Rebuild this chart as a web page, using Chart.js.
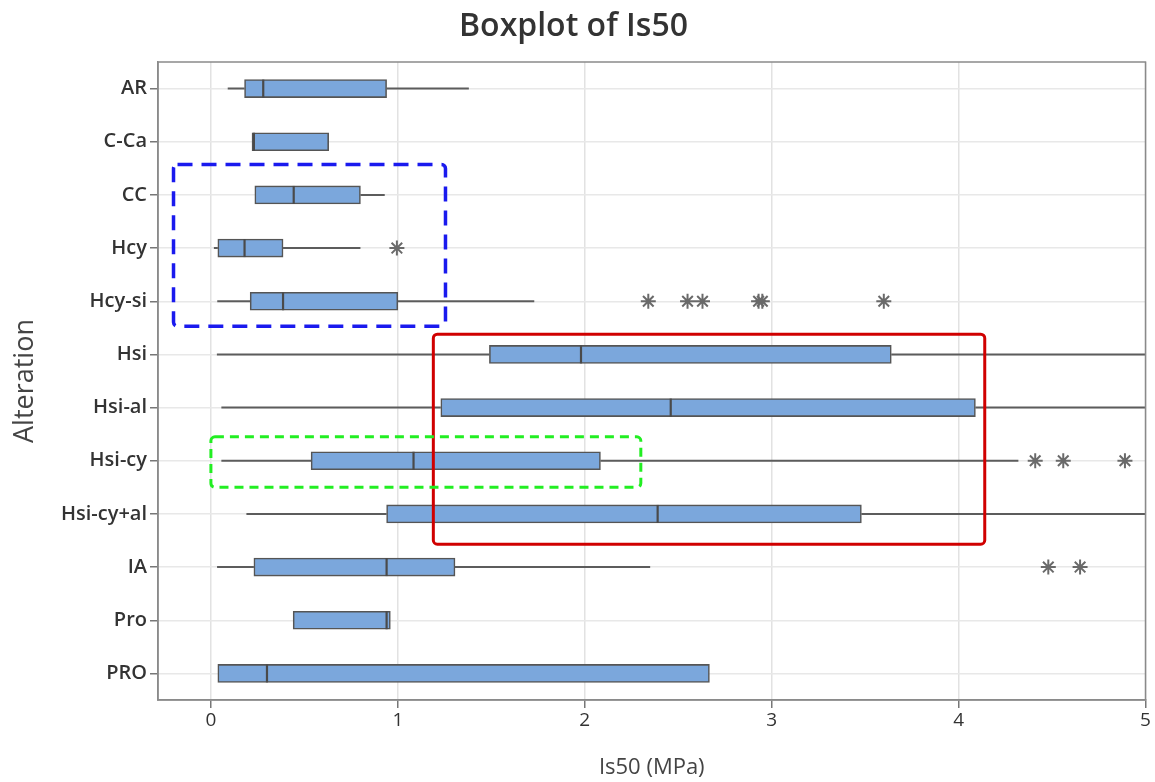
<!DOCTYPE html>
<html>
<head>
<meta charset="utf-8">
<script src="https://cdn.jsdelivr.net/npm/chart.js@4/dist/chart.umd.min.js"></script>
<style>
  html, body { margin: 0; padding: 0; background: #fff; }
  #wrap { width: 1155px; height: 782px; }
</style>
</head>
<body>
<div id="wrap"><canvas id="box"></canvas></div>
<script>
// -------------------- DATA --------------------
const categories  = ['AR', 'C-Ca', 'CC', 'Hcy', 'Hcy-si', 'Hsi', 'Hsi-al', 'Hsi-cy', 'Hsi-cy+al', 'IA', 'Pro', 'PRO'];
const whiskerLow  = [0.09, 0.22, 0.235, 0.016, 0.034, 0.032, 0.056, 0.056, 0.19, 0.033, 0.44, 0.037];
const q1          = [0.18, 0.22, 0.235, 0.037, 0.21, 1.49, 1.23, 0.536, 0.94, 0.23, 0.44, 0.037];
const median      = [0.28, 0.23, 0.443, 0.18, 0.386, 1.98, 2.46, 1.084, 2.39, 0.94, 0.94, 0.30];
const q3          = [0.94, 0.63, 0.80, 0.386, 1.0, 3.64, 4.09, 2.084, 3.48, 1.306, 0.96, 2.667];
const whiskerHigh = [1.38, 0.63, 0.93, 0.80, 1.73, 5.4, 5.4, 4.32, 5.4, 2.35, 0.96, 2.667];

// outliers (asterisks)
const outlierCats   = ['Hcy', 'Hcy-si', 'Hcy-si', 'Hcy-si', 'Hcy-si', 'Hcy-si', 'Hcy-si', 'Hsi-cy', 'Hsi-cy', 'Hsi-cy', 'IA', 'IA'];
const outlierValues = [0.995, 2.34, 2.55, 2.63, 2.93, 2.95, 3.60, 4.41, 4.56, 4.89, 4.48, 4.65];

const xTicks = [0, 1, 2, 3, 4, 5];

// highlight frames, in data units (x = Is50, y = category index)
const highlights = [
    { x0: -0.2, x1: 1.255, y0: 1.43, y1: 4.47, color: '#1a1aee', width: 3.5, dash: [15, 9] },
    { x0: 1.19, x1: 4.14, y0: 4.62, y1: 8.57, color: '#d00000', width: 3, dash: [] },
    { x0: 0.0, x1: 2.3, y0: 6.55, y1: 7.5, color: '#22ee22', width: 3, dash: [9, 6] }
];

// -------------------- PLUGINS --------------------
const boxParts = {
    id: 'boxParts',
    beforeDatasetsDraw(chart) {
        // whiskers, behind the boxes
        const { ctx, chartArea, scales: { x, y } } = chart;
        ctx.save();
        ctx.beginPath();
        ctx.rect(chartArea.left, chartArea.top, chartArea.width, chartArea.height);
        ctx.clip();
        ctx.strokeStyle = '#5c5c5c';
        ctx.lineWidth = 2;
        categories.forEach((c, i) => {
            const py = y.getPixelForValue(i);
            if (whiskerLow[i] < q1[i]) {
                ctx.beginPath();
                ctx.moveTo(x.getPixelForValue(whiskerLow[i]), py);
                ctx.lineTo(x.getPixelForValue(q1[i]), py);
                ctx.stroke();
            }
            if (whiskerHigh[i] > q3[i]) {
                ctx.beginPath();
                ctx.moveTo(x.getPixelForValue(q3[i]), py);
                ctx.lineTo(x.getPixelForValue(whiskerHigh[i]), py);
                ctx.stroke();
            }
        });
        ctx.restore();
    },
    afterDatasetsDraw(chart) {
        const { ctx, chartArea, scales: { x, y } } = chart;
        const half = 9;
        ctx.save();
        // medians
        ctx.strokeStyle = '#4a4a4a';
        ctx.lineWidth = 2.2;
        categories.forEach((c, i) => {
            const px = x.getPixelForValue(median[i]);
            const py = y.getPixelForValue(i);
            ctx.beginPath();
            ctx.moveTo(px, py - half);
            ctx.lineTo(px, py + half);
            ctx.stroke();
        });
        // top/right frame of the plot
        ctx.strokeStyle = '#8a8a8a';
        ctx.lineWidth = 1.5;
        ctx.strokeRect(chartArea.left, chartArea.top, chartArea.width, chartArea.height);
        ctx.restore();
    },
    afterDraw(chart) {
        const { ctx, scales: { x, y } } = chart;
        ctx.save();
        highlights.forEach(h => {
            const l = x.getPixelForValue(h.x0), r = x.getPixelForValue(h.x1);
            const t = y.getPixelForValue(h.y0), b = y.getPixelForValue(h.y1);
            ctx.strokeStyle = h.color;
            ctx.lineWidth = h.width;
            ctx.setLineDash(h.dash);
            ctx.lineJoin = 'round';
            ctx.beginPath();
            ctx.roundRect(l, t, r - l, b - t, 4);
            ctx.stroke();
        });
        ctx.restore();
    }
};

// -------------------- CHART --------------------
new Chart(document.getElementById('box'), {
    type: 'bar',
    data: {
        labels: categories,
        datasets: [
            {
                type: 'bar',
                data: categories.map((c, i) => [q1[i], q3[i]]),
                backgroundColor: '#7ba7dc',
                borderColor: '#555',
                borderWidth: 1.6,
                borderSkipped: false,
                barThickness: 18,
                order: 2
            },
            {
                type: 'scatter',
                data: outlierCats.map((c, i) => ({ x: outlierValues[i], y: c })),
                pointStyle: 'star',
                radius: 7.5,
                borderColor: '#6a6a6a',
                backgroundColor: '#6a6a6a',
                borderWidth: 2,
                order: 1
            }
        ]
    },
    options: {
        indexAxis: 'y',
        responsive: true,
        maintainAspectRatio: false,
        animation: false,
        layout: { padding: { right: 8 } },
        plugins: {
            legend: { display: false },
            tooltip: { enabled: false },
            title: {
                display: true,
                text: 'Boxplot of Is50',
                color: '#333',
                font: { family: 'Open Sans', size: 32, weight: '600' },
                padding: { top: 8, bottom: 15.6 }
            }
        },
        scales: {
            x: {
                type: 'linear',
                min: -0.283,
                max: 5,
                afterBuildTicks: s => { s.ticks = xTicks.map(v => ({ value: v })); },
                afterFit: s => { s.height = 82; },
                ticks: {
                    color: '#333',
                    font: { family: 'Open Sans', size: 19 },
                    padding: 1
                },
                grid: { color: '#e2e2e2', lineWidth: 1.5, tickColor: '#777', tickLength: 8 },
                border: { color: '#8a8a8a', width: 1.5 },
                title: {
                    display: true,
                    text: 'Is50 (MPa)',
                    color: '#444',
                    font: { family: 'Open Sans', size: 22 },
                    padding: { top: 0, bottom: 1 }
                }
            },
            y: {
                type: 'category',
                offset: true,
                afterFit: s => { s.width = 158; },
                ticks: {
                    color: '#333',
                    font: { family: 'Open Sans', size: 20, weight: '600' },
                    padding: 3
                },
                grid: { offset: false, color: '#e8e8e8', lineWidth: 1.5, tickColor: '#777', tickLength: 8 },
                border: { color: '#8a8a8a', width: 1.5 },
                title: {
                    display: true,
                    text: 'Alteration',
                    color: '#444',
                    font: { family: 'Open Sans', size: 27 },
                    padding: { top: 9, bottom: 0 }
                }
            }
        }
    },
    plugins: [boxParts]
});
</script>
</body>
</html>
